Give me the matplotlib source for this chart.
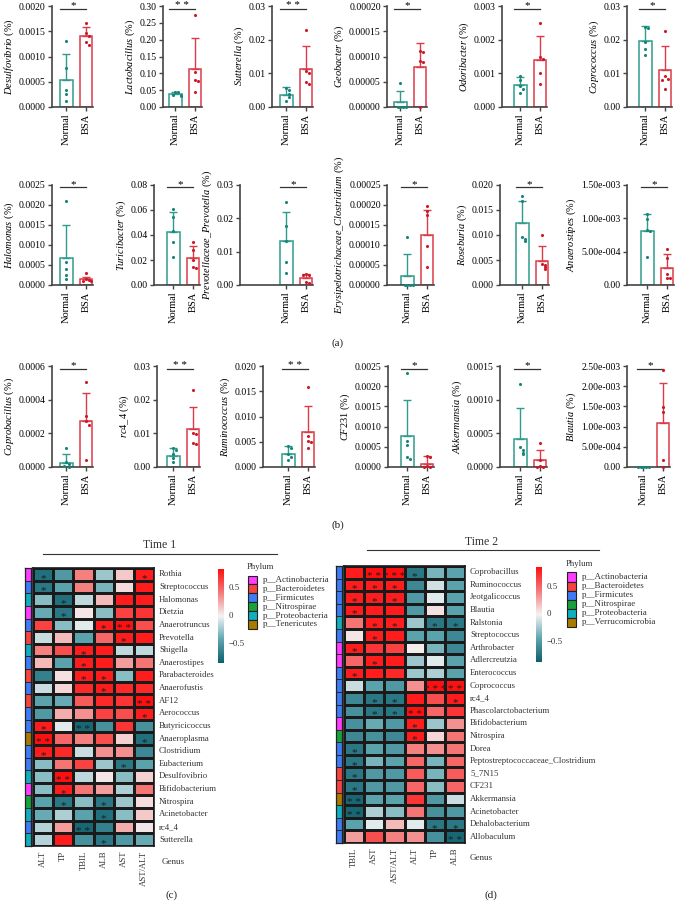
import numpy as np
import matplotlib
matplotlib.use("Agg")
import matplotlib.pyplot as plt
from matplotlib.colors import LinearSegmentedColormap
from matplotlib.patches import Rectangle

W, H = 677, 901
plt.rcParams["font.family"] = ["Liberation Serif", "DejaVu Serif"]
plt.rcParams["mathtext.fontset"] = "custom"
plt.rcParams["mathtext.it"] = "Liberation Serif:italic"
plt.rcParams["mathtext.rm"] = "Liberation Serif"

# ── Bar panel data (relative abundance, %) ────────────────────────────────────
GENERA = ["Desulfovibrio", "Lactobacillus", "Sutterella", "Geobacter", "Odoribacter", "Coprococcus",
          "Halomonas", "Turicibacter", "Prevotellaceae_Prevotella", "Erysipelotrichaceae_Clostridium",
          "Roseburia", "Anaerostipes",
          "Coprobacillus", "rc4_4", "Ruminococcus", "CF231", "Akkermansia", "Blautia"]
GROUPS = ["Normal", "BSA"]

NORMAL_MEAN = [0.00054, 0.0385, 0.0036, 0.0000092, 0.00065, 0.0197,
               0.00067, 0.0421, 0.0131, 0.000022, 0.0123, 0.00081,
               0.000026, 0.0034, 0.00265, 0.00077, 0.00042, 0.0]
NORMAL_SD = [0.0005, 0.007, 0.0022, 0.000022, 0.00025, 0.0044,
             0.00083, 0.016, 0.0088, 0.000056, 0.0044, 0.00025,
             0.000054, 0.0023, 0.00155, 0.00089, 0.00046, 0.0]
BSA_MEAN = [0.0014, 0.113, 0.0112, 0.000079, 0.00139, 0.0109,
            0.00014, 0.0213, 0.0020, 0.000125, 0.0049, 0.00026,
            0.000272, 0.0112, 0.007, 0.00008, 0.0001, 0.00108]
BSA_SD = [0.00018, 0.093, 0.0068, 0.000047, 0.00073, 0.0071,
          0.00007, 0.0096, 0.0012, 0.000063, 0.0028, 0.00021,
          0.000169, 0.0067, 0.005, 0.00019, 0.00015, 0.00101]
NORMAL_PTS = [
    [0.0013, 0.00077, 0.00033, 0.00026, 0.00011],
    [0.045, 0.044, 0.036, 0.035, 0.034],
    [0.0056, 0.0050, 0.0040, 0.0030, 0.0017],
    [0.000047, 0.0, 0.0, 0.0, 0.0],
    [0.00093, 0.00081, 0.00063, 0.00053, 0.00041],
    [0.0239, 0.0235, 0.0192, 0.0172, 0.0155],
    [0.00209, 0.00058, 0.00039, 0.00025, 0.00015],
    [0.0605, 0.054, 0.0432, 0.0341, 0.0221],
    [0.0249, 0.0177, 0.0132, 0.007, 0.0037],
    [0.00012, 0.0, 0.0, 0.0, 0.0],
    [0.0177, 0.0168, 0.0096, 0.0092, 0.0087],
    [0.00107, 0.00099, 0.00082, 0.00081, 0.00042],
    [0.000115, 0.00003, 0.000016, 0.0, 0.000005],
    [0.0057, 0.0051, 0.0039, 0.0028, 0.0015],
    [0.0041, 0.0038, 0.0026, 0.002, 0.0013],
    [0.00232, 0.00064, 0.00054, 0.00025, 0.00021],
    [0.00124, 0.00029, 0.00025, 0.00021, 0.00019],
    [0.0, 0.0, 0.0, 0.0, 0.0],
]
BSA_PTS = [
    [0.00167, 0.00146, 0.00141, 0.00128, 0.00122],
    [0.273, 0.104, 0.081, 0.078, 0.044],
    [0.0229, 0.0106, 0.0101, 0.0073, 0.0067],
    [0.00011, 0.000108, 0.000092, 0.00009, 0.0],
    [0.0025, 0.0015, 0.00142, 0.001, 0.00069],
    [0.0225, 0.0091, 0.0083, 0.0081, 0.0053],
    [0.00029, 0.00015, 0.00013, 0.0001, 0.00011],
    [0.0347, 0.028, 0.02, 0.0147, 0.0133],
    [0.0032, 0.003, 0.0031, 0.0008, 0.0007],
    [0.000198, 0.000186, 0.000175, 0.000097, 0.000045],
    [0.0100, 0.0043, 0.004, 0.0036, 0.0032],
    [0.00054, 0.00041, 0.00017, 0.00011, 0.0001],
    [0.000507, 0.000302, 0.000272, 0.000252, 0.000044],
    [0.0229, 0.0102, 0.0097, 0.0072, 0.0067],
    [0.0159, 0.0061, 0.0051, 0.005, 0.0038],
    [0.00026, 0.00025, 0.00002, 0.0, 0.0],
    [0.00035, 0.00011, 0.00002, 0.0, 0.0],
    [0.0024, 0.00149, 0.00137, 0.00018, 0.0],
]
SIG = ["*", "**", "**", "*", "*", "*",
       "*", "*", "*", "*", "*", "*",
       "*", "**", "**", "*", "*", "*"]
YMAX = [0.002, 0.30, 0.03, 0.0002, 0.003, 0.03,
        0.0025, 0.08, 0.03, 0.00025, 0.020, 0.0015,
        0.0006, 0.03, 0.020, 0.0025, 0.0015, 0.0025]
YSTEP = [0.0005, 0.05, 0.01, 0.00005, 0.001, 0.01,
         0.0005, 0.02, 0.01, 0.00005, 0.005, 0.0005,
         0.0002, 0.01, 0.005, 0.0005, 0.0005, 0.0005]
YFMT = ["{:.4f}", "{:.2f}", "{:.2f}", "{:.5f}", "{:.3f}", "{:.2f}",
        "{:.4f}", "{:.2f}", "{:.2f}", "{:.5f}", "{:.3f}", "sci",
        "{:.4f}", "{:.2f}", "{:.3f}", "{:.4f}", "{:.4f}", "sci"]

# ── Heatmap data (Spearman correlation) ───────────────────────────────────────
HM1_COLS = ["ALT", "TP", "TBIL", "ALB", "AST", "AST/ALT"]
HM1_ROWS = ["Rothia", "Streptococcus", "Halomonas", "Dietzia", "Anaerotruncus", "Prevotella",
            "Shigella", "Anaerostipes", "Parabacteroides", "Anaerofustis", "AF12", "Aerococcus",
            "Butyricicoccus", "Anaeroplasma", "Clostridium", "Eubacterium", "Desulfovibrio",
            "Bifidobacterium", "Nitrospira", "Acinetobacter", "rc4_4", "Sutterella"]
HM1_VALS = [
    [-0.75, -0.50, 0.40, -0.25, 0.15, 0.80],
    [-0.70, -0.45, 0.40, -0.35, 0.08, 0.80],
    [-0.30, -0.75, -0.15, 0.20, 0.80, 0.80],
    [-0.40, -0.70, 0.05, -0.30, 0.65, 0.70],
    [0.65, -0.30, -0.05, 0.80, 0.85, 0.60],
    [-0.12, 0.20, -0.45, 0.50, 0.80, 0.80],
    [0.40, 0.60, 0.80, 0.80, -0.15, -0.15],
    [0.20, -0.45, 0.80, 0.80, 0.30, 0.45],
    [-0.65, 0.07, 0.80, 0.80, -0.30, 0.80],
    [-0.12, 0.10, 0.75, 0.80, 0.75, 0.75],
    [-0.45, -0.40, 0.55, 0.75, 0.70, 0.85],
    [-0.50, 0.25, 0.35, 0.65, 0.60, 0.80],
    [0.80, -0.05, -0.80, -0.55, 0.70, -0.55],
    [0.85, 0.50, 0.40, 0.60, 0.12, -0.75],
    [0.80, 0.75, -0.12, 0.35, 0.35, -0.60],
    [-0.30, 0.45, 0.65, -0.25, -0.70, -0.45],
    [-0.30, 0.85, -0.15, 0.05, -0.30, 0.12],
    [-0.30, 0.80, 0.45, 0.30, -0.20, 0.45],
    [-0.45, -0.70, -0.30, -0.70, -0.25, 0.08],
    [-0.40, -0.20, -0.45, -0.75, -0.30, 0.15],
    [-0.18, 0.30, -0.80, -0.65, 0.25, 0.05],
    [-0.18, 0.80, -0.55, -0.70, -0.50, -0.40],
]
HM1_STARS = [
    [1, 0, 0, 0, 0, 1], [1, 0, 0, 0, 0, 0], [0, 1, 0, 0, 0, 0], [0, 1, 0, 0, 0, 0],
    [0, 0, 0, 1, 2, 0], [0, 0, 0, 0, 1, 0], [0, 0, 1, 0, 0, 0], [0, 0, 1, 0, 0, 0],
    [0, 0, 1, 1, 0, 0], [0, 0, 0, 1, 0, 0], [0, 0, 0, 0, 0, 2], [0, 0, 0, 0, 0, 1],
    [1, 0, 2, 0, 0, 0], [2, 0, 0, 0, 0, 1], [1, 0, 0, 0, 0, 0], [0, 0, 0, 0, 1, 0],
    [0, 2, 0, 0, 0, 0], [0, 1, 0, 0, 0, 0], [0, 1, 0, 1, 0, 0], [0, 0, 0, 1, 0, 0],
    [0, 0, 2, 0, 0, 0], [0, 0, 0, 1, 0, 0],
]
HM1_PHYLUM = "A F P A F B P F B F B F F T F F P A N P F P".split()

HM2_COLS = ["TBIL", "AST", "AST/ALT", "ALT", "TP", "ALB"]
HM2_ROWS = ["Coprobacillus", "Ruminococcus", "Jeotgalicoccus", "Blautia", "Ralstonia",
            "Streptococcus", "Arthrobacter", "Adlercreutzia", "Enterococcus", "Coprococcus",
            "rc4_4", "Phascolarctobacterium", "Bifidobacterium", "Nitrospira", "Dorea",
            "Peptostreptococcaceae_Clostridium", "5_7N15", "CF231", "Akkermansia",
            "Acinetobacter", "Dehalobacterium", "Allobaculum"]
HM2_VALS = [
    [0.80, 0.85, 0.90, -0.70, -0.35, -0.45],
    [0.80, 0.80, 0.80, -0.60, -0.10, -0.45],
    [0.80, 0.80, 0.80, -0.50, -0.05, -0.45],
    [0.80, 0.80, 0.80, -0.50, 0.07, -0.45],
    [0.45, 0.80, 0.80, -0.25, -0.70, -0.70],
    [0.05, 0.80, 0.80, -0.45, -0.45, -0.60],
    [0.80, 0.70, 0.65, 0.02, -0.35, -0.60],
    [0.50, 0.80, 0.80, -0.25, -0.05, -0.45],
    [0.80, 0.80, 0.75, -0.25, -0.20, -0.45],
    [-0.12, -0.45, -0.50, 0.35, 0.90, 0.85],
    [-0.60, -0.70, -0.70, 0.80, 0.60, 0.80],
    [-0.55, -0.70, -0.70, 0.85, 0.50, 0.70],
    [-0.55, -0.40, -0.50, 0.80, -0.25, 0.35],
    [-0.60, -0.55, -0.60, 0.80, 0.10, 0.45],
    [-0.70, -0.45, -0.50, 0.40, 0.35, 0.45],
    [-0.70, -0.35, -0.45, 0.50, -0.35, 0.50],
    [-0.70, -0.50, -0.50, 0.55, -0.35, 0.55],
    [-0.70, -0.50, -0.50, 0.50, -0.30, 0.50],
    [-0.80, -0.45, -0.45, 0.70, -0.50, -0.12],
    [-0.80, -0.20, -0.30, 0.45, -0.55, -0.50],
    [-0.45, -0.05, 0.20, -0.05, -0.70, -0.70],
    [0.30, 0.60, 0.40, 0.35, -0.55, -0.80],
]
HM2_STARS = [
    [0, 2, 3, 1, 0, 0], [1, 1, 1, 0, 0, 0], [1, 1, 1, 0, 0, 0], [1, 0, 0, 0, 0, 0],
    [0, 1, 1, 0, 1, 1], [0, 1, 0, 0, 0, 0], [1, 0, 0, 0, 0, 0], [0, 1, 0, 0, 0, 0],
    [1, 0, 0, 0, 0, 0], [0, 0, 0, 0, 3, 2], [0, 1, 1, 0, 0, 1], [0, 1, 1, 2, 0, 0],
    [0, 0, 0, 1, 0, 0], [0, 0, 0, 1, 0, 0], [1, 0, 0, 0, 0, 0], [1, 0, 0, 0, 0, 0],
    [1, 0, 0, 0, 0, 0], [1, 0, 0, 0, 0, 0], [2, 0, 0, 0, 0, 0], [2, 0, 0, 0, 0, 0],
    [0, 0, 0, 0, 1, 1], [0, 0, 0, 0, 0, 2],
]
HM2_PHYLUM = "F F F F P F A A F F F F A N F F B B V P F F".split()

PHYLA1 = ["Actinobacteria", "Bacteroidetes", "Firmicutes", "Nitrospirae", "Proteobacteria", "Tenericutes"]
PHYLA2 = ["Actinobacteria", "Bacteroidetes", "Firmicutes", "Nitrospirae", "Proteobacteria", "Verrucomicrobia"]
CBAR_TICKS = [0.5, 0, -0.5]

# ── Styling ───────────────────────────────────────────────────────────────────
NORMAL_EDGE, NORMAL_DOT = "#2E9C8C", "#17857A"
BSA_EDGE, BSA_DOT = "#DC3A46", "#CC1A2A"
PHYLUM_COLOR = {"A": "#FF3CFF", "B": "#F6433F", "F": "#3D7CF5", "N": "#17A33B",
                "P": "#10AFC0", "T": "#A87B00", "V": "#A87B00"}
PHYLUM_KEY = {"Actinobacteria": "A", "Bacteroidetes": "B", "Firmicutes": "F", "Nitrospirae": "N",
              "Proteobacteria": "P", "Tenericutes": "T", "Verrucomicrobia": "V"}
CMAP = LinearSegmentedColormap.from_list("corr", ["#0E5F6E", "#5FA6B0", "#F4F4F4", "#F47A7A", "#FF1010"])
VLIM = 0.85

# axes boxes in pixels: (left, right) per panel, (top, bottom) per row
ROW_Y = [(6, 107), (185, 285), (366, 467)]
ROW_X = [
    [(52, 93), (163, 202), (272, 313), (387, 427), (502, 547), (627, 672)],
    [(52, 93), (154, 200), (240, 313), (387, 434), (500, 549), (627, 674)],
    [(52, 93), (157, 200), (263, 315), (388, 434), (500, 547), (627, 670)],
]


def px_rect(x0, x1, y0, y1):
    return [x0 / W, 1 - y1 / H, (x1 - x0) / W, (y1 - y0) / H]


def swarm(vals, ymax):
    # spread near-equal points sideways so they don't overlap
    offs, placed = [], []
    for v in vals:
        k = sum(1 for p in placed if abs(p - v) < 0.035 * ymax)
        placed.append(v)
        offs.append(0.0 if k == 0 else (0.13 * ((k + 1) // 2)) * (1 if k % 2 else -1))
    return np.array(offs)


def sci_label(v):
    if v == 0:
        return "0.00"
    m, e = f"{v:.2e}".split("e")
    return f"{m}e{int(e):+04d}"


def bar_panel(ax, i, box):
    w_px = box[1] - box[0]
    x_hi = 1.36
    ax.set_xlim(x_hi - w_px / 19.5, x_hi)
    ymax = YMAX[i]
    ax.set_ylim(0, ymax)
    series = [(0, NORMAL_MEAN[i], NORMAL_SD[i], NORMAL_PTS[i], NORMAL_EDGE, NORMAL_DOT),
              (1, BSA_MEAN[i], BSA_SD[i], BSA_PTS[i], BSA_EDGE, BSA_DOT)]
    for x, m, sd, pts, ec, dc in series:
        ax.bar(x, m, width=0.62, facecolor="white", edgecolor=ec, linewidth=1.1, zorder=2)
        if sd > 0:
            ax.errorbar(x, m, yerr=[[0], [sd]], fmt="none", ecolor=ec, elinewidth=1.0,
                        capsize=3, capthick=1.0, zorder=3)
        ax.scatter(x + swarm(pts, ymax), pts, s=5, color=dc, zorder=4, clip_on=False, linewidths=0)
    ax.plot([-0.35, 1.0], [ymax * 0.975] * 2, color="#333333", lw=0.9, clip_on=False)
    ax.annotate(" ".join(SIG[i]), xy=(0.33, ymax * 0.975), xytext=(0, 2.2),
                textcoords="offset points", ha="center", va="center", fontsize=8,
                annotation_clip=False)
    ticks = np.arange(0, ymax + YSTEP[i] / 2, YSTEP[i])
    ax.set_yticks(ticks)
    if YFMT[i] == "sci":
        ax.set_yticklabels([sci_label(t) for t in ticks])
    else:
        ax.set_yticklabels([YFMT[i].format(t) for t in ticks])
    ax.set_xticks([0, 1])
    ax.set_xticklabels(GROUPS, rotation=90, fontsize=7.5)
    ax.tick_params(axis="y", labelsize=7, length=3, width=1, color="#444444", pad=1.5)
    ax.tick_params(axis="x", length=3, width=1, color="#444444", pad=1.5)
    for s in ("top", "right"):
        ax.spines[s].set_visible(False)
    for s in ("left", "bottom"):
        ax.spines[s].set_linewidth(1.2)
        ax.spines[s].set_color("#444444")
    name = GENERA[i].replace("_", r"\_")
    ax.set_ylabel(r"$\mathit{" + name + r"}$ (%)", fontsize=7.5, labelpad=2)


def heatmap(cell_box, strip_box, rows, cols, vals, stars, phyla):
    x0, x1, y0, y1 = cell_box
    ax = fig.add_axes(px_rect(x0, x1, y0, y1))
    v = np.array(vals)
    ax.pcolormesh(np.arange(len(cols) + 1), np.arange(len(rows) + 1), v, cmap=CMAP,
                  vmin=-VLIM, vmax=VLIM, edgecolors="#1a1a1a", linewidth=0.9)
    ax.set_xlim(0, len(cols))
    ax.set_ylim(len(rows), 0)
    ax.set_xticks([])
    ax.set_yticks([])
    for s in ax.spines.values():
        s.set_linewidth(1.2)
        s.set_color("#1a1a1a")
    for r in range(len(rows)):
        for c in range(len(cols)):
            n = stars[r][c]
            if n:
                ax.text(c + 0.5, r + 0.82, " ".join(["*"] * n), ha="center", va="center",
                        fontsize=8, color="#1e1e1e")
        ax.text(len(cols) + 0.25, r + 0.5, rows[r], ha="left", va="center", fontsize=6.3,
                color="#333333")
    for c, name in enumerate(cols):
        ax.text(c + 0.5, len(rows) + 0.35, name, ha="center", va="top", rotation=90,
                fontsize=6.3, color="#333333", clip_on=False)
    sx0, sx1 = strip_box
    sax = fig.add_axes(px_rect(sx0, sx1, y0, y1))
    for r, p in enumerate(phyla):
        sax.add_patch(Rectangle((0, r), 1, 1, facecolor=PHYLUM_COLOR[p], edgecolor="#222222", lw=0.6))
    sax.set_xlim(0, 1)
    sax.set_ylim(len(rows), 0)
    sax.set_xticks([])
    sax.set_yticks([])
    for s in sax.spines.values():
        s.set_linewidth(0.9)
        s.set_color("#222222")


def colorbar(cx0, cx1, cy0, cy1, label_x):
    cax = fig.add_axes(px_rect(cx0, cx1, cy0, cy1))
    grad = np.linspace(-VLIM, VLIM, 256).reshape(-1, 1)
    cax.imshow(grad, cmap=CMAP, vmin=-VLIM, vmax=VLIM, aspect="auto", origin="lower",
               extent=[0, 1, -VLIM, VLIM])
    cax.set_axis_off()
    for t in CBAR_TICKS:
        ty = (cy0 + cy1) / 2 - t / (2 * VLIM) * (cy1 - cy0)
        ov.text(label_x, ty, f"{t:g}".replace("-", "\u2212"), ha="left", va="center",
                fontsize=6.3, color="#333333")


def legend(x, y_title, y_first, step, phyla):
    ov.text(x, y_title, "Phylum", ha="left", va="center", fontsize=6.3, color="#333333")
    for k, name in enumerate(phyla):
        yc = y_first + step * k
        ov.add_patch(Rectangle((x + 1, yc - step / 2), 9, step,
                               facecolor=PHYLUM_COLOR[PHYLUM_KEY[name]], edgecolor="#222222", lw=0.8))
        ov.text(x + 16, yc, "p__" + name, ha="left", va="center", fontsize=6.5, color="#333333")


fig = plt.figure(figsize=(W / 100, H / 100), dpi=100)
ov = fig.add_axes([0, 0, 1, 1])
ov.set_xlim(0, W)
ov.set_ylim(H, 0)
ov.set_axis_off()

# ── (a)/(b) bar panels ────────────────────────────────────────────────────────
for r, (yt, yb) in enumerate(ROW_Y):
    for c, (xl, xr) in enumerate(ROW_X[r]):
        ax = fig.add_axes(px_rect(xl, xr, yt, yb))
        bar_panel(ax, r * 6 + c, (xl, xr))

for lab, x, y in (("(a)", 338, 343), ("(b)", 338, 525), ("(c)", 172, 895), ("(d)", 491, 895)):
    ov.text(x, y, lab, ha="center", va="center", fontsize=8, color="#222222")

# ── (c) Time 1 heatmap ────────────────────────────────────────────────────────
ov.text(160, 545, "Time 1", ha="center", va="center", fontsize=8.5, color="#333333")
ov.plot([43, 277], [554, 554], color="#333333", lw=0.8)
heatmap((33, 154, 568, 846), (25, 31), HM1_ROWS, HM1_COLS, HM1_VALS, HM1_STARS, HM1_PHYLUM)
colorbar(218, 224, 569, 663, 229)
legend(247, 567, 580, 8.9, PHYLA1)
ov.text(162, 862, "Genus", ha="left", va="center", fontsize=6.5, color="#333333")

# ── (d) Time 2 heatmap ────────────────────────────────────────────────────────
ov.text(482, 542, "Time 2", ha="center", va="center", fontsize=8.5, color="#333333")
ov.plot([367, 599], [550, 550], color="#333333", lw=0.8)
heatmap((344, 465, 566, 843), (336, 342), HM2_ROWS, HM2_COLS, HM2_VALS, HM2_STARS, HM2_PHYLUM)
colorbar(536, 542, 567, 662, 547)
legend(566, 564, 577, 9.1, PHYLA2)
ov.text(470, 858, "Genus", ha="left", va="center", fontsize=6.5, color="#333333")

fig.savefig("out.png", dpi=100)
